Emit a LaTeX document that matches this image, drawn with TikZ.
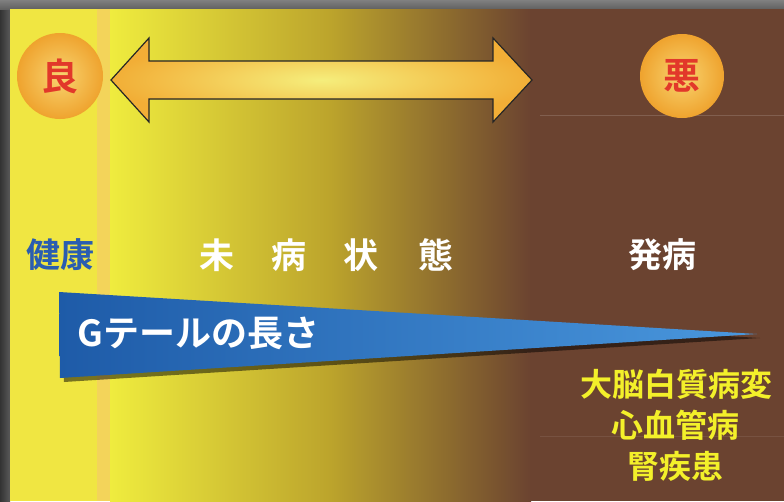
\documentclass[tikz,border=0pt]{standalone}
\usepackage{fontspec}
\newfontfamily\jp{Noto Sans CJK JP}[BoldFont={* Bold}]
\definecolor{brownbg}{HTML}{6B4330}
\definecolor{ylw}{HTML}{EFEC3E}
\definecolor{colY}{HTML}{F0E642}
\definecolor{colB}{HTML}{F3D45A}
\definecolor{olive}{HTML}{BCA42C}
\definecolor{healthblue}{HTML}{2A5DB0}
\definecolor{wedgeL}{HTML}{1E5BA8}
\definecolor{wedgeR}{HTML}{4A98DE}
\definecolor{arrowO}{HTML}{F2AE36}
\definecolor{arrowC}{HTML}{F5EE7C}
\definecolor{ballC}{HTML}{F8D470}
\definecolor{ballO}{HTML}{EFA32E}
\definecolor{textyel}{HTML}{F3F02A}
\definecolor{badred}{HTML}{E2382A}
\tikzset{
  jptext/.style={font=\jp\bfseries, inner sep=0pt},
  ballnode/.style={circle, minimum size=86pt, inner sep=0pt, inner color=ballC, outer color=ballO},
  balltxt/.style={jptext, text=badred, font=\jp\bfseries\fontsize{37}{38}\selectfont},
  whitetxt/.style={jptext, text=white, font=\jp\bfseries\fontsize{35}{38}\selectfont},
  disease/.style={jptext, text=textyel, font=\jp\bfseries\fontsize{32}{34}\selectfont},
}
\begin{document}
\begin{tikzpicture}[x=1pt,y=-1pt]
\useasboundingbox (0,0) rectangle (784,501);
% frame
\fill[left color=black!80, right color=black!65] (0,0) rectangle (10,501);
\fill[top color=black!50, bottom color=black!62] (0,0) rectangle (784,9);
% backgrounds
\fill[colY] (10,9) rectangle (97,501);
\fill[colB] (97,9) rectangle (110,501);
\fill[left color=ylw, right color=olive] (110,9) rectangle (330,501);
\fill[left color=olive, right color=brownbg] (330,9) rectangle (531,501);
\fill[brownbg] (531,9) rectangle (784,501);
\draw[brownbg!85!white, line width=0.6pt] (540,115) -- (784,115);
\draw[brownbg!92!white, line width=0.6pt] (540,436) -- (784,436);
% double arrow
\path[draw=black!85, line width=1.2pt, inner color=arrowC, outer color=arrowO]
  (111,80) -- (149,38) -- (149,61) -- (493,61) -- (493,38) -- (532,80)
  -- (493,122) -- (493,99) -- (149,99) -- (149,122) -- cycle;
% balls
\node[ballnode] (good) at (60,76) {};
\node[balltxt] at (good) {良};
\node[ballnode, minimum size=84pt] (bad) at (682,76) {};
\node[balltxt] at (bad) {悪};
% stage labels
\node[jptext, text=healthblue, font=\jp\bfseries\fontsize{34}{36}\selectfont] (health) at (61,255) {健康};
\node[whitetxt] (mibyou) at (326.5,255) {未\hspace{38pt}病\hspace{37pt}状\hspace{40pt}態};
\node[whitetxt, font=\jp\bfseries\fontsize{34}{36}\selectfont] (hatsu) at (662,255) {発病};
% wedge
\fill[black, opacity=0.5] (63,296) -- (760,338) -- (64,382) -- cycle;
\path[left color=wedgeL, right color=wedgeR] (59,292) -- (757,334) -- (60,378) -- cycle;
\node[whitetxt, anchor=west, font=\jp\bfseries\fontsize{36}{38}\selectfont] (gtail) at (77,333) {Gテールの長さ};
% diseases
\node[disease] (d1) at (676,384) {大脳白質病変};
\node[disease] (d2) at (675,425) {心血管病};
\node[disease] (d3) at (675,466) {腎疾患};
\end{tikzpicture}
\end{document}
